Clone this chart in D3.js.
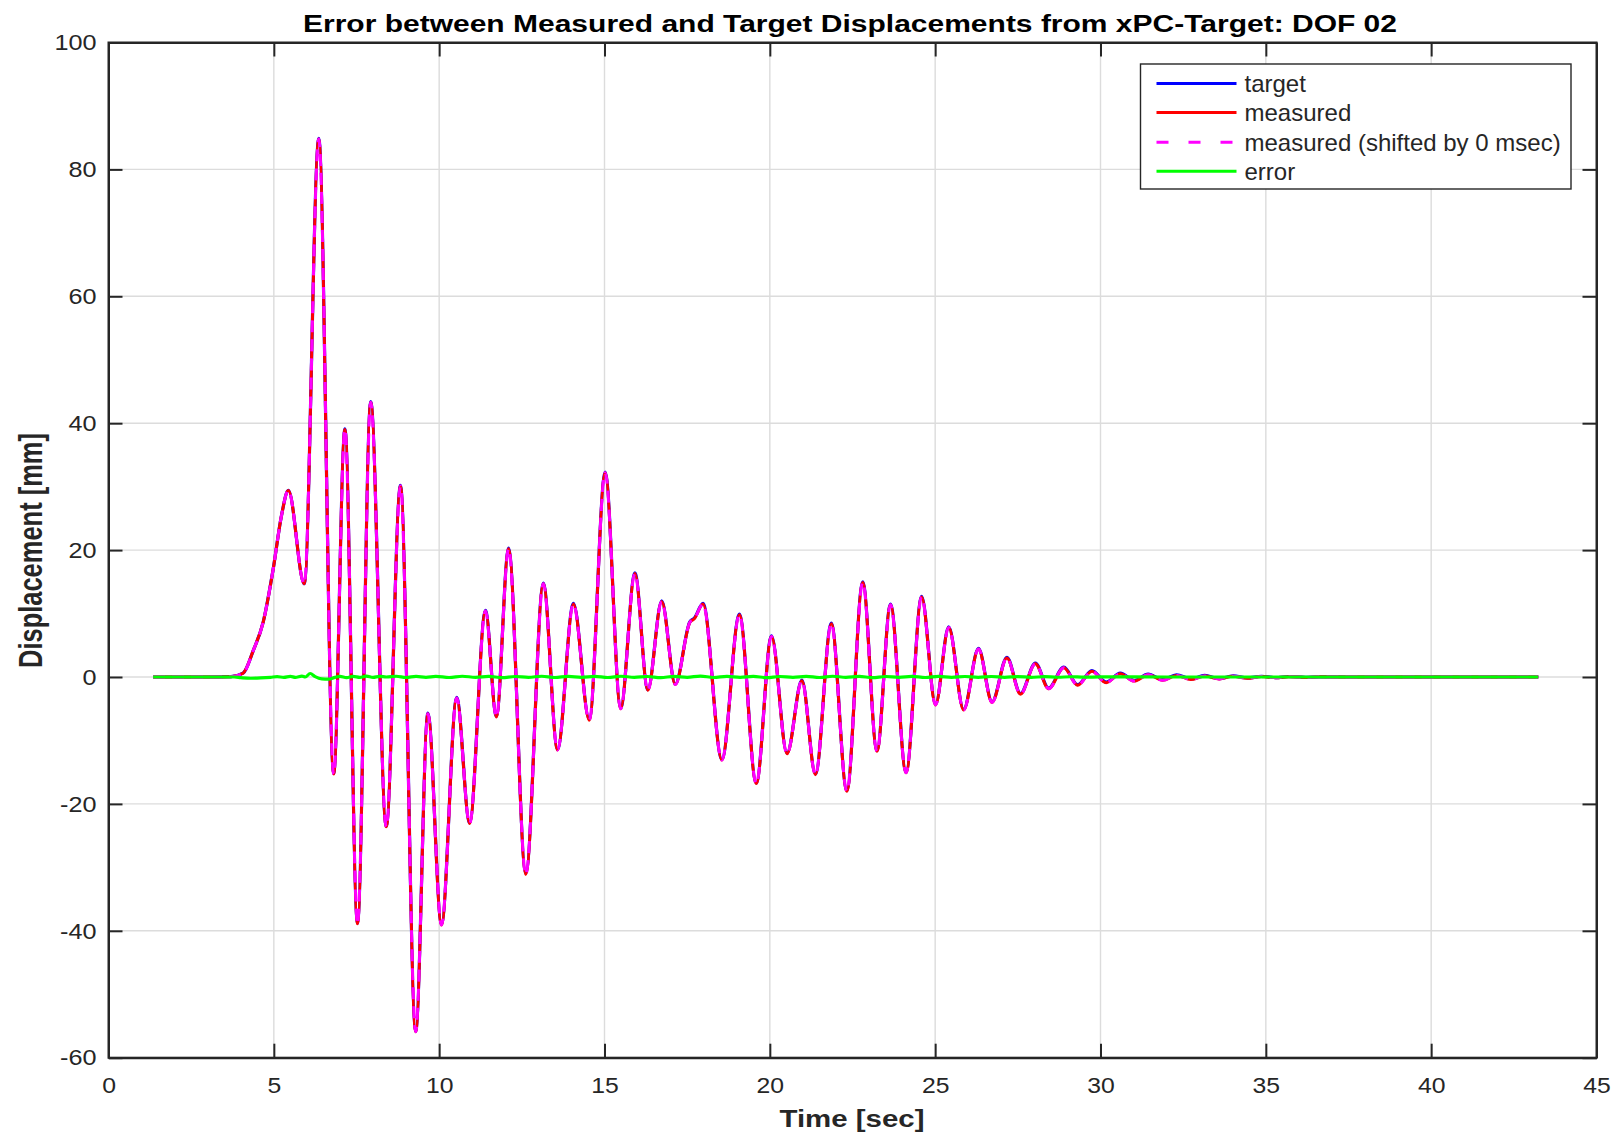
<!DOCTYPE html>
<html>
<head>
<meta charset="utf-8">
<script src="https://cdn.jsdelivr.net/npm/d3@7"></script>
<style>
  html, body { margin: 0; padding: 0; background: #ffffff; }
  svg { display: block; font-family: "Liberation Sans", Arial, Helvetica, sans-serif; }
</style>
</head>
<body>
<svg id="chart" width="1620" height="1136"></svg>
<script>
// ---------------- DATA ----------------
const titleText = "Error between Measured and Target Displacements from xPC-Target: DOF 02";
const xLabelText = "Time [sec]";
const yLabelText = "Displacement [mm]";
const xTicks = [0, 5, 10, 15, 20, 25, 30, 35, 40, 45];
const yTicks = [-60, -40, -20, 0, 20, 40, 60, 80, 100];
const seriesNames = ["target", "measured", "measured (shifted by 0 msec)", "error"];

// time stamps [sec] of read points (extrema and shape points)
const sigTime = [1.35, 3.0, 3.7, 4.07, 4.38, 4.68, 4.98, 5.23, 5.44, 5.92, 6.36, 6.81, 7.15, 7.53, 7.93,
  8.40, 8.83, 9.29, 9.66, 10.07, 10.53, 10.92, 11.40, 11.73, 12.10, 12.62, 13.15, 13.58, 14.06,
  14.54, 15.02, 15.49, 15.92, 16.31, 16.73, 17.14, 17.58, 17.72, 17.98, 18.55, 19.08, 19.59, 20.05,
  20.52, 20.97, 21.38, 21.86, 22.33, 22.81, 23.24, 23.65, 24.12, 24.59, 25.01, 25.41, 25.86, 26.31,
  26.72, 27.17, 27.58, 28.03, 28.43, 28.89, 29.31, 29.74, 30.17, 30.60, 31.02, 31.44, 31.88, 32.30,
  32.73, 33.15, 33.59, 34.01, 34.44, 34.87, 35.30, 35.70, 36.20, 36.60, 37.50, 43.24];
// target displacement [mm]
const targetValues = [0, 0, 0.05, 0.6, 4.2, 8.7, 17.0, 25.4, 29.4, 14.7, 84.9, -15.2, 39.1, -38.8, 43.4,
  -23.5, 30.2, -55.8, -5.7, -39.0, -3.2, -23.0, 10.5, -6.2, 20.3, -31.0, 14.8, -11.4, 11.6,
  -6.7, 32.3, -4.9, 16.4, -2.0, 12.0, -1.1, 8.7, 9.3, 11.6, -13.0, 9.9, -16.7, 6.5,
  -12.0, -0.5, -15.3, 8.5, -17.9, 15.0, -11.6, 11.5, -15.0, 12.7, -4.3, 7.9, -5.1, 4.5,
  -3.9, 3.1, -2.6, 2.2, -1.75, 1.55, -1.2, 1.0, -0.8, 0.6, -0.55, 0.45, -0.4, 0.35,
  -0.3, 0.25, -0.25, 0.2, -0.15, 0.12, -0.1, 0.08, -0.05, 0.03, 0, 0];
// measured displacement [mm] (coincides with target at this scale)
const measuredValues = [0, 0, 0.05, 0.6, 4.2, 8.7, 17.0, 25.4, 29.4, 14.7, 84.8, -15.3, 39.0, -38.9, 43.3,
  -23.6, 30.1, -55.9, -5.8, -39.1, -3.3, -23.1, 10.4, -6.3, 20.2, -31.1, 14.7, -11.5, 11.5,
  -6.8, 32.2, -5.0, 16.3, -2.1, 11.9, -1.2, 8.6, 9.2, 11.5, -13.1, 9.8, -16.8, 6.4,
  -12.1, -0.6, -15.4, 8.4, -18.0, 14.9, -11.7, 11.4, -15.1, 12.6, -4.4, 7.8, -5.2, 4.4,
  -4.0, 3.0, -2.7, 2.1, -1.85, 1.45, -1.3, 0.9, -0.9, 0.5, -0.65, 0.35, -0.5, 0.25,
  -0.4, 0.15, -0.3, 0.12, -0.2, 0.06, -0.12, 0.04, -0.06, 0.02, 0, 0];

// error signal
const errTime = [1.35, 3.8, 4.0, 4.3, 4.6, 4.9, 5.1, 5.3, 5.5, 5.65, 5.85, 5.95, 6.1, 6.25, 6.45, 6.65,
  6.85, 7.0, 7.2, 7.4, 7.6, 7.8, 8.0, 8.2, 8.4, 8.7, 9.0, 9.3, 9.6, 9.9, 10.3, 10.7, 11.1, 11.5,
  11.9, 12.3, 12.7, 13.1, 13.5, 13.9, 14.3, 14.7, 15.1, 15.5, 15.9, 16.3, 16.7, 17.1, 17.5, 17.9,
  18.3, 18.7, 19.1, 19.5, 19.9, 20.3, 20.7, 21.1, 21.5, 21.9, 22.3, 22.7, 23.1, 23.5, 23.9, 24.3,
  24.7, 25.1, 25.5, 25.9, 26.3, 26.7, 27.1, 27.5, 27.9, 28.3, 28.7, 29.1, 29.5, 30.0, 31.0, 32.0, 43.24];
const errValues = [0, 0, -0.1, -0.2, -0.15, -0.05, 0.05, -0.05, 0.1, -0.05, 0.15, 0.0, 0.55, 0.05, -0.3, -0.35,
  -0.05, 0.1, -0.1, 0.1, -0.05, 0.15, -0.05, 0.1, 0.0, 0.12, -0.08, 0.1, -0.05, 0.1, -0.08, 0.12, -0.05, 0.1,
  -0.1, 0.08, -0.05, 0.12, -0.08, 0.1, -0.05, 0.1, -0.08, 0.12, -0.05, 0.08, -0.1, 0.1, -0.05, 0.15,
  -0.08, 0.1, -0.05, 0.1, -0.1, 0.08, -0.05, 0.1, -0.08, 0.12, -0.05, 0.1, -0.1, 0.08, -0.05, 0.1,
  -0.08, 0.1, -0.05, 0.08, -0.06, 0.08, -0.05, 0.06, -0.05, 0.05, -0.04, 0.04, -0.03, 0.02, 0.01, 0, 0];

// ---------------- LAYOUT ----------------
const W = 1620, H = 1136;
const plot = { left: 108.5, right: 1596.5, top: 42.5, bottom: 1057.7 };
const axisColor = "#262626";
const gridColor = "#dcdcdc";
const tickLen = 14;

const svg = d3.select("#chart");
svg.append("rect").attr("width", W).attr("height", H).attr("fill", "#ffffff");

const x = d3.scaleLinear().domain([0, 45]).range([plot.left, plot.right]);
const y = d3.scaleLinear().domain([-60, 100]).range([plot.bottom, plot.top]);

function stretch(sel, k) {
  sel.each(function () {
    const w = this.getComputedTextLength();
    this.setAttribute("textLength", (w * k).toFixed(2));
    this.setAttribute("lengthAdjust", "spacingAndGlyphs");
  });
}
function fitTo(sel, width) {
  sel.attr("textLength", width).attr("lengthAdjust", "spacingAndGlyphs");
}
const plainFormat = d => String(d);

// grid
const grid = svg.append("g");
grid.selectAll("line.gx").data(xTicks.filter(t => t > 0 && t < 45)).enter().append("line")
  .attr("x1", d => x(d)).attr("x2", d => x(d)).attr("y1", plot.top).attr("y2", plot.bottom)
  .attr("stroke", gridColor).attr("stroke-width", 1.4);
grid.selectAll("line.gy").data(yTicks.filter(t => t > -60 && t < 100)).enter().append("line")
  .attr("y1", d => y(d)).attr("y2", d => y(d)).attr("x1", plot.left).attr("x2", plot.right)
  .attr("stroke", gridColor).attr("stroke-width", 1.4);

// axes
const fontTick = 22.5;
const axB = svg.append("g").attr("transform", `translate(0,${plot.bottom})`)
  .call(d3.axisBottom(x).tickValues(xTicks).tickSizeInner(-tickLen).tickSizeOuter(0).tickPadding(19).tickFormat(plainFormat));
const axT = svg.append("g").attr("transform", `translate(0,${plot.top})`)
  .call(d3.axisTop(x).tickValues(xTicks).tickSizeInner(-tickLen).tickSizeOuter(0).tickFormat(""));
const axL = svg.append("g").attr("transform", `translate(${plot.left},0)`)
  .call(d3.axisLeft(y).tickValues(yTicks).tickSizeInner(-tickLen).tickSizeOuter(0).tickPadding(12).tickFormat(plainFormat));
const axR = svg.append("g").attr("transform", `translate(${plot.right},0)`)
  .call(d3.axisRight(y).tickValues(yTicks).tickSizeInner(-tickLen).tickSizeOuter(0).tickFormat(""));

[axB, axT, axL, axR].forEach(a => {
  a.select(".domain").attr("stroke", axisColor).attr("stroke-width", 2);
  a.selectAll(".tick line").attr("stroke", axisColor).attr("stroke-width", 2);
  a.selectAll(".tick text").attr("fill", axisColor).attr("font-size", fontTick)
    .attr("font-family", '"Liberation Sans", Arial, sans-serif');
});
stretch(axB.selectAll(".tick text"), 1.1);
stretch(axL.selectAll(".tick text"), 1.12);

// lines
const line = d3.line().curve(d3.curveMonotoneX);
const ptsTarget = sigTime.map((t, i) => [x(t), y(targetValues[i])]);
const ptsMeasured = sigTime.map((t, i) => [x(t), y(measuredValues[i])]);
const ptsError = errTime.map((t, i) => [x(t), y(errValues[i])]);

const lines = svg.append("g").attr("fill", "none").attr("stroke-linejoin", "round");
lines.append("path").attr("d", line(ptsTarget)).attr("stroke", "#0000ff").attr("stroke-width", 3.2);
lines.append("path").attr("d", line(ptsMeasured)).attr("stroke", "#ff0000").attr("stroke-width", 3);
lines.append("path").attr("d", line(ptsMeasured)).attr("stroke", "#ff00ff").attr("stroke-width", 3)
  .attr("stroke-dasharray", "12,7");
lines.append("path").attr("d", line(ptsError)).attr("stroke", "#00ff00").attr("stroke-width", 3.2);

// redraw box edges on top
svg.append("rect").attr("x", plot.left).attr("y", plot.top)
  .attr("width", plot.right - plot.left).attr("height", plot.bottom - plot.top)
  .attr("fill", "none").attr("stroke", axisColor).attr("stroke-width", 2);

// title
const title = svg.append("text").attr("x", 850).attr("y", 32).attr("text-anchor", "middle")
  .attr("font-weight", "bold").attr("font-size", 23.5).attr("fill", "#000").text(titleText);
fitTo(title, 1094);

// x label
const xl = svg.append("text").attr("x", 852).attr("y", 1127).attr("text-anchor", "middle")
  .attr("font-weight", "bold").attr("font-size", 23.5).attr("fill", axisColor).text(xLabelText);
fitTo(xl, 145);

// y label (horizontally widened glyphs as in the reference)
const yl = svg.append("text").attr("transform", "translate(41.5,550.5) scale(1.42,1) rotate(-90)")
  .attr("text-anchor", "middle")
  .attr("font-weight", "bold").attr("font-size", 23.5).attr("fill", axisColor).text(yLabelText);
fitTo(yl, 235);

// legend
const legend = svg.append("g");
const lgBox = { x: 1140.5, y: 64, w: 430.5, h: 125 };
legend.append("rect").attr("x", lgBox.x).attr("y", lgBox.y).attr("width", lgBox.w).attr("height", lgBox.h)
  .attr("fill", "#ffffff").attr("stroke", axisColor).attr("stroke-width", 1.4);
const lgColors = ["#0000ff", "#ff0000", "#ff00ff", "#00ff00"];
const lgDash = [null, null, "12,20", null];
const lgRowY = [83.5, 112.6, 142.2, 171.2];
seriesNames.forEach((name, i) => {
  legend.append("line").attr("x1", 1156.5).attr("x2", 1236.5).attr("y1", lgRowY[i]).attr("y2", lgRowY[i])
    .attr("stroke", lgColors[i]).attr("stroke-width", 3)
    .attr("stroke-dasharray", lgDash[i]);
  legend.append("text").attr("x", 1244.5).attr("y", lgRowY[i]).attr("dy", "0.35em")
    .attr("font-size", 24).attr("fill", axisColor).text(name);
});
</script>
</body>
</html>
